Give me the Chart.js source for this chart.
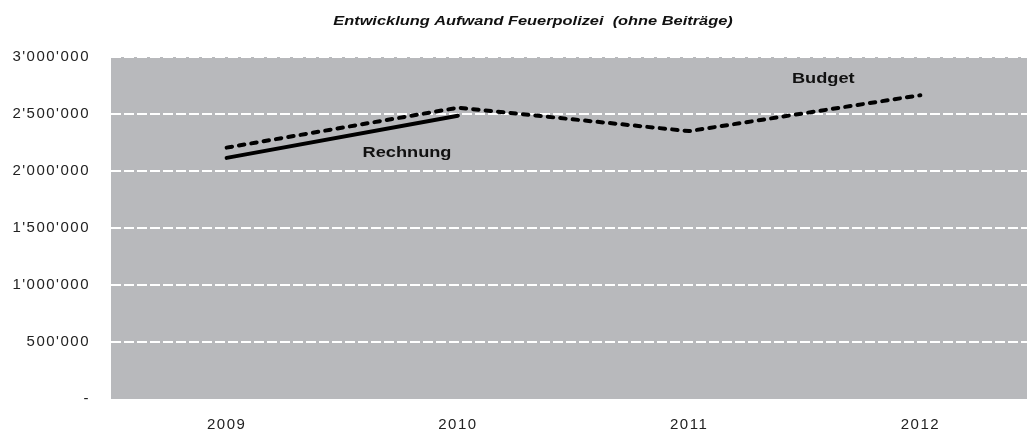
<!DOCTYPE html>
<html lang="de">
<head>
<meta charset="utf-8">
<title>Entwicklung Aufwand Feuerpolizei</title>
<script src="https://cdn.jsdelivr.net/npm/chart.js@4"></script>
<style>
  html, body { margin: 0; padding: 0; background: #ffffff; overflow: hidden; }
  #wrap { position: relative; width: 1040px; height: 439px; }
</style>
</head>
<body>
<div id="wrap"><canvas id="chart"></canvas></div>
<script>
// Jahre (Kategorien)
const years = ['2009', '2010', '2011', '2012'];

// Aufwand in CHF
const rechnung = [2115000, 2485000, null, null];
const budget = [2205000, 2555000, 2350000, 2665000];

// Y-Achse
const yTicks = [0, 500000, 1000000, 1500000, 2000000, 2500000, 3000000];

// Beschriftungen der Linien: [Text, Kategorie-Position, Wert]
const seriesLabels = [
  ['Rechnung', 0.78, 2160000],
  ['Budget', 2.58, 2805000]
];

const titleText = 'Entwicklung Aufwand Feuerpolizei  (ohne Beiträge)';

const FONT = '"Liberation Sans", Arial, sans-serif';

function formatCHF(v) {
  if (v === 0) return '-';
  return String(Math.round(v)).replace(/\B(?=(\d{3})+(?!\d))/g, "'");
}

// grauer Hintergrund der Zeichenfläche, breit laufende Achsenschrift
const plotBackground = {
  id: 'plotBackground',
  beforeDraw(chart) {
    const { ctx, chartArea: a } = chart;
    ctx.save();
    ctx.fillStyle = '#b8b9bc';
    ctx.fillRect(a.left, a.top, a.right - a.left, a.bottom - a.top);
    ctx.restore();
    ctx.letterSpacing = '1.5px';
  },
  beforeDatasetsDraw(chart) {
    chart.ctx.letterSpacing = '0px';
  }
};

// gestreckt gezeichneter Text
function wideText(ctx, text, x, y, stretch) {
  ctx.save();
  ctx.translate(x, y);
  ctx.scale(stretch, 1);
  ctx.fillText(text, 0, 0);
  ctx.restore();
}

const textLayer = {
  id: 'textLayer',
  afterDatasetsDraw(chart) {
    const { ctx } = chart;
    const x = chart.scales.x, y = chart.scales.y;
    ctx.save();
    ctx.letterSpacing = '0px';
    ctx.fillStyle = '#111111';
    ctx.textAlign = 'center';
    ctx.textBaseline = 'middle';
    ctx.font = 'bold 14px ' + FONT;
    seriesLabels.forEach(([t, pos, val]) => {
      wideText(ctx, t, x.getPixelForValue(pos), y.getPixelForValue(val), 1.3);
    });
    ctx.font = 'italic bold 13px ' + FONT;
    wideText(ctx, titleText, 533, 21, 1.26);
    ctx.restore();
  }
};

new Chart(document.getElementById('chart'), {
  type: 'line',
  data: {
    labels: years,
    datasets: [
      {
        label: 'Rechnung',
        data: rechnung,
        borderColor: '#000000',
        borderWidth: 4,
        borderCapStyle: 'round',
        tension: 0,
        pointRadius: 0,
        spanGaps: false
      },
      {
        label: 'Budget',
        data: budget,
        borderColor: '#000000',
        borderWidth: 4,
        borderDash: [5.5, 7],
        borderCapStyle: 'round',
        tension: 0,
        pointRadius: 0
      }
    ]
  },
  options: {
    responsive: true,
    maintainAspectRatio: false,
    animation: false,
    layout: { padding: { top: 57, right: 4, left: 0, bottom: 0 } },
    plugins: {
      legend: { display: false },
      title: { display: false },
      tooltip: { enabled: false }
    },
    scales: {
      x: {
        offset: true,
        grid: { display: false, drawTicks: false },
        border: { display: false },
        ticks: {
          color: '#222222',
          font: { family: FONT, size: 15 },
          padding: 17
        },
        afterFit(scale) { scale.height = 40; }
      },
      y: {
        min: 0,
        max: 3000000,
        afterBuildTicks(scale) {
          scale.ticks = yTicks.map(v => ({ value: v }));
        },
        grid: {
          drawTicks: false,
          color: ctx => (ctx.tick && ctx.tick.value === 0) ? 'rgba(0,0,0,0)' : '#ffffff',
          lineWidth: 2
        },
        border: { display: false, dash: [10, 3] },
        ticks: {
          color: '#222222',
          font: { family: FONT, size: 15 },
          padding: 21,
          callback: v => formatCHF(v)
        },
        afterFit(scale) { scale.width = 111; }
      }
    }
  },
  plugins: [plotBackground, textLayer]
});
</script>
</body>
</html>
